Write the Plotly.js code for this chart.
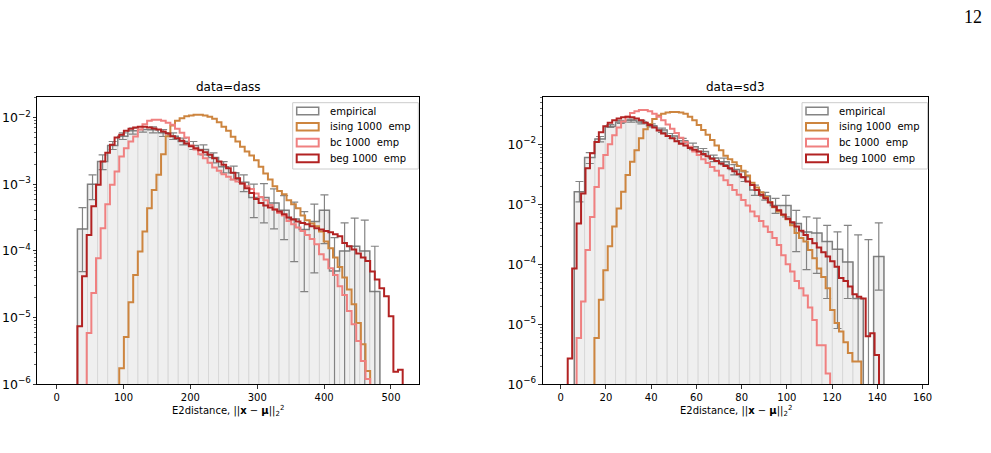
<!DOCTYPE html>
<html><head><meta charset="utf-8">
<script src="https://cdn.plot.ly/plotly-3.0.1.min.js"></script>
<style>html,body{margin:0;padding:0;background:#fff;}#chart{width:991px;height:453px;}</style>
</head><body><div id="chart"></div>
<script>
// ================= DATA (log10 of density) =================
// ---- panel 1: data=dass ----
const dassModelEdgeStart = 31.0, dassModelBinWidth = 6.95;   // 70 model bins
const dassEmpEdgeStart = 31.0, dassEmpBinWidth = 15.08;      // 30 empirical bins
const dassBegFirstBin = 0;
const dassBegLog10 = [-5.13,-4.38,-3.76,-3.33,-3.01,-2.66,-2.53,-2.41,-2.30,-2.26,
  -2.20,-2.17,-2.15,-2.14,-2.14,-2.15,-2.165,-2.18,-2.21,-2.24,
  -2.28,-2.31,-2.35,-2.39,-2.43,-2.46,-2.49,-2.52,-2.56,-2.61,
  -2.66,-2.71,-2.76,-2.83,-2.91,-2.99,-3.06,-3.13,-3.22,-3.28,
  -3.32,-3.35,-3.38,-3.41,-3.45,-3.50,-3.53,-3.56,-3.58,-3.60,
  -3.63,-3.66,-3.68,-3.70,-3.72,-3.75,-3.78,-3.88,-3.93,-3.98,
  -4.04,-4.10,-4.15,-4.31,-4.43,-4.56,-4.68,-4.98,-5.81,-5.78];
const dassBcFirstBin = 2;
const dassBcLog10 = [-5.23,-4.63,-4.11,-3.66,-3.30,-3.01,-2.81,-2.585,-2.46,-2.36,
  -2.285,-2.18,-2.10,-2.05,-2.035,-2.035,-2.05,-2.08,-2.11,-2.17,
  -2.23,-2.30,-2.42,-2.48,-2.55,-2.61,-2.68,-2.75,-2.80,-2.85,
  -2.89,-2.93,-2.96,-2.99,-3.03,-3.07,-3.14,-3.19,-3.24,-3.31,
  -3.38,-3.43,-3.47,-3.55,-3.60,-3.65,-3.70,-3.76,-3.82,-3.90,
  -4.05,-4.13,-4.26,-4.36,-4.53,-4.66,-4.90,-5.10,-5.35,-5.65,-5.92];
const dassIsingFirstBin = 9;
const dassIsingLog10 = [-5.76,-5.29,-4.77,-4.36,-4.01,-3.71,-3.36,-3.085,-2.86,-2.55,
  -2.28,-2.12,-2.05,-2.01,-1.98,-1.97,-1.96,-1.96,-1.97,-1.99,
  -2.02,-2.07,-2.14,-2.20,-2.29,-2.36,-2.44,-2.51,-2.57,-2.64,
  -2.74,-2.84,-2.93,-3.03,-3.10,-3.15,-3.24,-3.30,-3.36,-3.47,
  -3.54,-3.59,-3.63,-3.71,-3.86,-3.96,-4.10,-4.24,-4.40,-4.58,
  -4.80,-5.08,-5.40,-5.80];
// empirical: bar value, top of error bar, bottom of error bar (null = below the axis)
const dassEmpLog10 = [-3.67,-3.00,-2.66,-2.42,-2.28,-2.20,-2.18,-2.185,-2.23,-2.28,
  -2.36,-2.42,-2.48,-2.60,-2.74,-2.83,-2.97,-3.20,-3.20,-3.28,
  -3.39,-3.52,-3.68,-3.56,-3.39,-4.30,-4.00,-3.93,-4.00,-4.61];
const dassEmpErrTopLog10 = [-3.35,-2.86,-2.56,-2.36,-2.23,-2.16,-2.135,-2.14,-2.18,-2.23,
  -2.31,-2.36,-2.41,-2.53,-2.66,-2.73,-2.86,-3.00,-2.99,-3.07,
  -3.17,-3.27,-3.41,-3.30,-3.16,-3.80,-3.58,-3.51,-3.54,-3.93];
const dassEmpErrBottomLog10 = [-4.31,-3.23,-2.78,-2.48,-2.33,-2.25,-2.22,-2.23,-2.285,-2.33,
  -2.41,-2.48,-2.56,-2.68,-2.83,-2.93,-3.11,-3.50,-3.58,-3.67,
  -3.83,-4.16,-4.61,-4.33,-3.89,null,null,null,null,null];

// ---- panel 2: data=sd3 ----
const sd3ModelEdgeStart = 3.1, sd3ModelBinWidth = 1.966;     // 70 model bins
const sd3EmpEdgeStart = 6.0, sd3EmpBinWidth = 4.563;         // 30 empirical bins
const sd3BegFirstBin = 0;
const sd3BegLog10 = [-5.57,-4.07,-3.32,-2.82,-2.40,-2.15,-1.96,-1.80,-1.70,-1.64,
  -1.60,-1.57,-1.55,-1.54,-1.55,-1.57,-1.60,-1.64,-1.68,-1.72,
  -1.77,-1.82,-1.86,-1.90,-1.95,-1.99,-2.02,-2.06,-2.09,-2.12,
  -2.16,-2.20,-2.24,-2.28,-2.32,-2.36,-2.40,-2.45,-2.50,-2.55,
  -2.62,-2.68,-2.76,-2.84,-2.90,-2.97,-3.04,-3.10,-3.17,-3.24,
  -3.30,-3.37,-3.44,-3.51,-3.58,-3.65,-3.72,-3.80,-3.87,-3.95,
  -4.04,-4.23,-4.28,-4.37,-4.50,-4.54,-4.57,-5.20,-5.15,-5.51];
const sd3BcFirstBin = 2;
const sd3BcLog10 = [-5.23,-4.62,-3.76,-3.21,-2.71,-2.40,-2.18,-2.00,-1.85,-1.72,
  -1.62,-1.54,-1.48,-1.45,-1.43,-1.43,-1.45,-1.49,-1.54,-1.60,
  -1.67,-1.74,-1.81,-1.89,-1.96,-2.04,-2.12,-2.18,-2.25,-2.31,
  -2.38,-2.44,-2.52,-2.60,-2.68,-2.76,-2.84,-2.93,-3.02,-3.12,
  -3.20,-3.28,-3.37,-3.46,-3.56,-3.68,-3.85,-4.00,-4.12,-4.28,
  -4.40,-4.52,-4.72,-4.93,-5.35,-5.35,-5.82];
const sd3IsingFirstBin = 6;
const sd3IsingLog10 = [-5.23,-4.59,-4.10,-3.70,-3.37,-3.07,-2.79,-2.51,-2.29,-2.10,
  -1.90,-1.75,-1.66,-1.58,-1.52,-1.49,-1.47,-1.46,-1.46,-1.47,
  -1.49,-1.54,-1.60,-1.68,-1.76,-1.84,-1.93,-2.02,-2.10,-2.19,
  -2.25,-2.30,-2.36,-2.44,-2.52,-2.64,-2.72,-2.80,-2.88,-2.96,
  -3.05,-3.12,-3.18,-3.25,-3.35,-3.48,-3.56,-3.62,-3.76,-3.90,
  -4.07,-4.21,-4.40,-4.76,-4.98,-5.12,-5.30,-5.48,-5.62,-5.62];
const sd3EmpLog10 = [-2.79,-2.22,-1.91,-1.70,-1.63,-1.60,-1.63,-1.69,-1.76,-1.86,
  -1.94,-2.04,-2.12,-2.23,-2.29,-2.42,-2.54,-2.76,-2.86,-3.02,
  -3.02,-3.32,-3.46,-3.48,-3.62,-3.75,-3.96,-4.57,null,-3.87];
const sd3EmpErrTopLog10 = [-2.62,-2.14,-1.87,-1.67,-1.60,-1.58,-1.60,-1.66,-1.73,-1.82,
  -1.90,-1.98,-2.07,-2.18,-2.23,-2.34,-2.46,-2.68,-2.80,-2.90,
  -2.85,-3.10,-3.21,-3.23,-3.35,-3.46,-3.35,-3.51,-3.59,-3.31];
const sd3EmpErrBottomLog10 = [-2.96,-2.32,-1.96,-1.72,-1.65,-1.63,-1.66,-1.71,-1.80,-1.90,
  -1.98,-2.09,-2.18,-2.29,-2.34,-2.51,-2.62,-2.85,-2.93,-3.15,
  -3.21,-3.79,-4.09,-4.15,-4.57,-5.07,-4.57,-5.62,null,-4.43];

const panelTitles = ['data=dass', 'data=sd3'];
const legendLabels = ['empirical', 'ising 1000\u00a0 emp', 'bc 1000\u00a0 emp', 'beg 1000\u00a0 emp'];
const xTickStep = [100, 20];
const pageNumber = '12';

// ================= STYLE =================
const W = 991, H = 453;
const FONT = 'DejaVu Sans';
const colEmpLine = 'rgba(110,110,110,0.85)';
const colEmpFill = '#efefef';
const colEmpEdge = '#d8d8d8';
const colIsing = '#CD853F';
const colBc = '#F08080';
const colBeg = '#B22222';
const FLOOR = 1e-12;

const P = px => px / W;
const Q = py => 1 - py / H;

function stepTrace(edgeStart, width, firstBin, logs, color, lw, xa, ya) {
  const xs = [], ys = [];
  const x0 = edgeStart + firstBin * width;
  xs.push(x0); ys.push(FLOOR);
  logs.forEach((lv, i) => { xs.push(x0 + i * width); ys.push(lv === null ? FLOOR : Math.pow(10, lv)); });
  xs.push(x0 + logs.length * width); ys.push(FLOOR);
  return {type: 'scatter', mode: 'lines', x: xs, y: ys, xaxis: xa, yaxis: ya,
    line: {shape: 'hv', color: color, width: lw}, hoverinfo: 'skip', showlegend: false};
}
function empBars(edgeStart, width, logs, xa, ya) {
  return {type: 'bar', x: logs.map((_, i) => edgeStart + (i + 0.5) * width),
    y: logs.map(v => v === null ? null : Math.pow(10, v)), width: logs.map(() => width),
    xaxis: xa, yaxis: ya, marker: {color: colEmpFill, line: {color: colEmpEdge, width: 1}},
    hoverinfo: 'skip', showlegend: false};
}
function empErr(edgeStart, width, logs, tops, bottoms, xa, ya) {
  const yc = logs.map(v => v === null ? FLOOR : Math.pow(10, v));
  const plus = tops.map((t, i) => Math.pow(10, t) - yc[i]);
  const minus = bottoms.map((b, i) => b === null ? yc[i] - FLOOR : yc[i] - Math.pow(10, b));
  return {type: 'scatter', mode: 'markers', x: logs.map((_, i) => edgeStart + (i + 0.5) * width), y: yc,
    xaxis: xa, yaxis: ya, marker: {size: 2, opacity: 0},
    error_y: {type: 'data', symmetric: false, array: plus, arrayminus: minus,
      color: colEmpLine, thickness: 1.2, width: 4},
    hoverinfo: 'skip', showlegend: false};
}

const traces = [
  empBars(dassEmpEdgeStart, dassEmpBinWidth, dassEmpLog10, 'x', 'y'),
  empBars(sd3EmpEdgeStart, sd3EmpBinWidth, sd3EmpLog10, 'x2', 'y2'),
  stepTrace(dassEmpEdgeStart, dassEmpBinWidth, 0, dassEmpLog10, colEmpLine, 1.5, 'x', 'y'),
  stepTrace(sd3EmpEdgeStart, sd3EmpBinWidth, 0, sd3EmpLog10, colEmpLine, 1.5, 'x2', 'y2'),
  empErr(dassEmpEdgeStart, dassEmpBinWidth, dassEmpLog10, dassEmpErrTopLog10, dassEmpErrBottomLog10, 'x', 'y'),
  empErr(sd3EmpEdgeStart, sd3EmpBinWidth, sd3EmpLog10, sd3EmpErrTopLog10, sd3EmpErrBottomLog10, 'x2', 'y2'),
  stepTrace(dassModelEdgeStart, dassModelBinWidth, dassIsingFirstBin, dassIsingLog10, colIsing, 2, 'x', 'y'),
  stepTrace(dassModelEdgeStart, dassModelBinWidth, dassBcFirstBin, dassBcLog10, colBc, 2, 'x', 'y'),
  stepTrace(dassModelEdgeStart, dassModelBinWidth, dassBegFirstBin, dassBegLog10, colBeg, 2, 'x', 'y'),
  stepTrace(sd3ModelEdgeStart, sd3ModelBinWidth, sd3IsingFirstBin, sd3IsingLog10, colIsing, 2, 'x2', 'y2'),
  stepTrace(sd3ModelEdgeStart, sd3ModelBinWidth, sd3BcFirstBin, sd3BcLog10, colBc, 2, 'x2', 'y2'),
  stepTrace(sd3ModelEdgeStart, sd3ModelBinWidth, sd3BegFirstBin, sd3BegLog10, colBeg, 2, 'x2', 'y2'),
];

// ---------- axes ----------
const axBase = {showline: true, linecolor: 'black', linewidth: 1, mirror: true,
  ticks: 'outside', ticklen: 3.5, tickwidth: 0.8, tickcolor: 'black',
  showgrid: false, zeroline: false, fixedrange: true,
  tickfont: {family: FONT, size: 10, color: 'black'}};
const logBase = {type: 'log', dtick: 1, exponentformat: 'power', showexponent: 'all',
  minor: {ticks: 'outside', ticklen: 2, tickwidth: 0.6, tickcolor: 'black', showgrid: false}};
const plotTop = 96.7, plotBot = 384.3;
const panels = [
  {x0: 37.3, x1: 419.0, xr: [-29, 541.9], yr: [-6, -1.688]},
  {x0: 542.7, x1: 928.3, xr: [-7.96, 162.5], yr: [-6, -1.207]},
];

const shapes = [], annotations = [];
const legendColors = [colEmpLine, colIsing, colBc, colBeg];
const legendRowY = [111.0, 126.7, 142.6, 158.4];
panels.forEach((pn, k) => {
  const cx = (pn.x0 + pn.x1) / 2;
  annotations.push({xref: 'paper', yref: 'paper', x: P(cx), y: Q(87), xanchor: 'center', yanchor: 'middle',
    text: panelTitles[k], showarrow: false, font: {family: FONT, size: 12, color: 'black'}});
  annotations.push({xref: 'paper', yref: 'paper', x: P(cx), y: Q(411), xanchor: 'center', yanchor: 'middle',
    text: 'E2distance, ||<b>x</b> − <b>μ</b>||<sub>2</sub><sup>2</sup>', showarrow: false,
    font: {family: FONT, size: 10, color: 'black'}});
  // legend frame
  const fx0 = pn.x1 - 126.3, fx1 = pn.x1 - 0.7 - 0.0;
  shapes.push({type: 'rect', xref: 'paper', yref: 'paper', x0: P(fx0), x1: P(pn.x1 - 5.5 + 4.8), y0: Q(169), y1: Q(102.7),
    line: {color: '#cccccc', width: 1}, fillcolor: 'rgba(255,255,255,0.8)', layer: 'above'});
  legendLabels.forEach((lab, i) => {
    const yc = legendRowY[i];
    shapes.push({type: 'rect', xref: 'paper', yref: 'paper', x0: P(fx0 + 4), x1: P(fx0 + 26),
      y0: Q(yc + 3.8), y1: Q(yc - 3.8), line: {color: legendColors[i], width: i === 0 ? 1.5 : 2},
      fillcolor: 'rgba(0,0,0,0)', layer: 'above'});
    annotations.push({xref: 'paper', yref: 'paper', x: P(fx0 + 35), y: Q(yc), xanchor: 'left', yanchor: 'middle',
      text: lab, showarrow: false, font: {family: FONT, size: 10, color: 'black'}});
  });
});
annotations.push({xref: 'paper', yref: 'paper', x: P(973), y: Q(17), xanchor: 'center', yanchor: 'middle',
  text: pageNumber, showarrow: false, font: {family: 'Liberation Serif', size: 18, color: 'black'}});

const dom = p => [P(p.x0), P(p.x1)];
const layout = {
  width: W, height: H, margin: {l: 0, r: 0, t: 0, b: 0, pad: 0},
  paper_bgcolor: 'white', plot_bgcolor: 'white', showlegend: false,
  font: {family: FONT, size: 10, color: 'black'}, barmode: 'overlay',
  xaxis: Object.assign({}, axBase, {domain: dom(panels[0]), range: panels[0].xr, tick0: 0, dtick: xTickStep[0], anchor: 'y'}),
  yaxis: Object.assign({}, axBase, logBase, {domain: [Q(plotBot), Q(plotTop)], range: panels[0].yr, anchor: 'x'}),
  xaxis2: Object.assign({}, axBase, {domain: dom(panels[1]), range: panels[1].xr, tick0: 0, dtick: xTickStep[1], anchor: 'y2'}),
  yaxis2: Object.assign({}, axBase, logBase, {domain: [Q(plotBot), Q(plotTop)], range: panels[1].yr, anchor: 'x2'}),
  shapes: shapes, annotations: annotations
};
Plotly.newPlot('chart', traces, layout, {displayModeBar: false, staticPlot: true});
</script></body></html>
